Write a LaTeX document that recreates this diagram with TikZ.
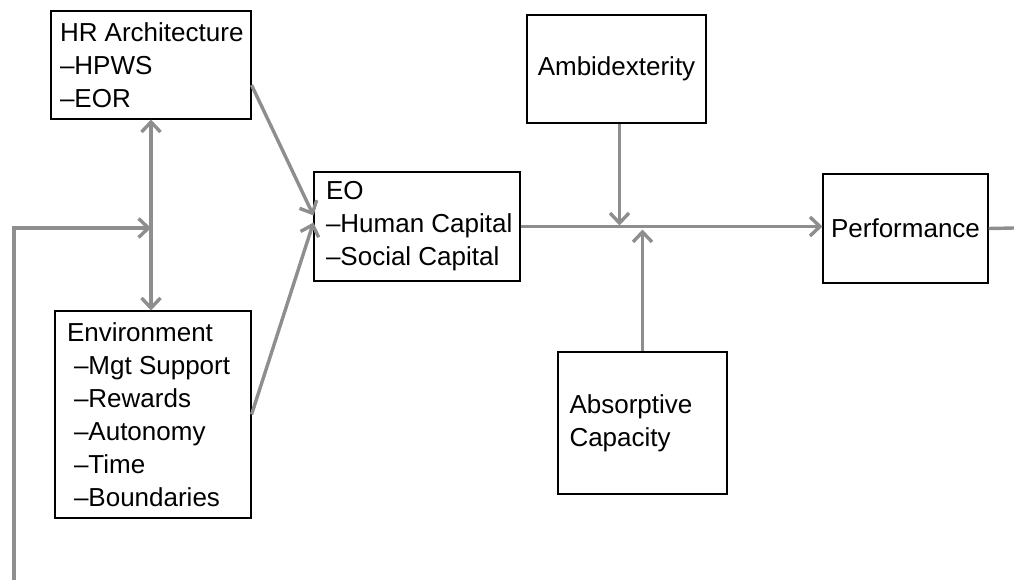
\documentclass[tikz,border=0pt]{standalone}
\usepackage{fontspec}
\setmainfont{Liberation Sans}
\usetikzlibrary{arrows.meta}
\definecolor{linkgray}{HTML}{8E8E8E}
\begin{document}
\begin{tikzpicture}[x=1pt, y=-1pt, every node/.style={font=\fontsize{26}{33}\selectfont},
  box/.style={draw=black,line width=1.1pt,align=flush left,inner sep=0pt},
  link/.style={draw=linkgray,line width=3.4pt,-{Straight Barb[length=10pt,width=19pt,line width=3.4pt]}}]
\useasboundingbox (0,0) rectangle (1014,580);
\node[box,minimum width=200,minimum height=108,text width=182] (hr) at (151,65) {\mbox{HR Architecture}\\\textendash HPWS\\\textendash EOR};
\node[box,minimum width=196,minimum height=207,text width=172] (env) at (153,414.5) {Environment\\\mbox{\hspace{7pt}\textendash Mgt Support}\\\mbox{\hspace{7pt}\textendash Rewards}\\\mbox{\hspace{7pt}\textendash Autonomy}\\\mbox{\hspace{7pt}\textendash Time}\\\mbox{\hspace{7pt}\textendash Boundaries}};
\node[box,minimum width=206,minimum height=109,text width=182] (eo) at (417,226.5) {EO\\\mbox{\textendash Human Capital}\\\mbox{\textendash Social Capital}};
\node[box,minimum width=179,minimum height=108,align=center] (ambi) at (616.5,69) {Ambidexterity};
\node[box,minimum width=169,minimum height=142,text width=146] (absorb) at (642.5,423) {Absorptive\\Capacity};
\node[box,minimum width=165,minimum height=109,align=center] (perf) at (905.5,228.5) {Performance};
\coordinate (fbstart) at (14,580);
\coordinate (fbend) at (151,228);
\coordinate (out) at (1014,228);
% feedback into the HR / environment link
\draw[link] (fbstart) |- (fbend);
\draw[link,{Straight Barb[length=10pt,width=19pt,line width=3.4pt]}-{Straight Barb[length=10pt,width=19pt,line width=3.4pt]}] (hr.south) -- (hr.south |- env.north);
\draw[link] ([yshift=-20pt]hr.east) -- ([yshift=11pt]eo.west);
\draw[link] (env.east) -- ([yshift=4pt]eo.west);
\draw[link] (eo.east) -- (eo.east -| perf.west);
% moderators
\draw[link] ([xshift=3pt]ambi.south) -- ([xshift=3pt,yshift=1pt]ambi.south |- eo.east);
\draw[link] (absorb.north) -- ([yshift=-3pt]absorb.north |- eo.east);
\draw[linkgray,line width=3.4pt] (perf.east) -- (out);
\end{tikzpicture}
\end{document}
